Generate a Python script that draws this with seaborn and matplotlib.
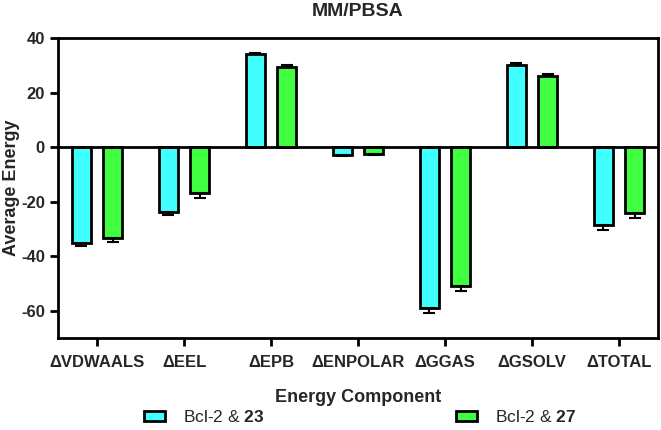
import numpy as np
import pandas as pd
import matplotlib
matplotlib.use("Agg")
import matplotlib.pyplot as plt
import seaborn as sns
from matplotlib.patches import Patch

# energy components and the two complexes
components = ["ΔVDWAALS", "ΔEEL", "ΔEPB", "ΔENPOLAR", "ΔGGAS", "ΔGSOLV", "ΔTOTAL"]
series_names = ["Bcl-2 & 23", "Bcl-2 & 27"]
values_23 = [-35.2, -23.8, 34.1, -2.9, -59.1, 30.2, -28.6]
errors_23 = [0.9, 1.0, 0.5, 0.4, 1.7, 0.6, 1.8]
values_27 = [-33.3, -16.9, 29.4, -2.6, -51.0, 26.1, -24.0]
errors_27 = [1.5, 1.6, 0.8, 0.4, 1.6, 0.8, 2.0]
colors = ["#40FFFF", "#40FF40"]

sns.set_style("white")
plt.rcParams["font.family"] = ["Liberation Sans", "DejaVu Sans"]
plt.rcParams["mathtext.fontset"] = "custom"
plt.rcParams["mathtext.bf"] = "Liberation Sans:bold"
plt.rcParams["mathtext.rm"] = "Liberation Sans"
plt.rcParams["axes.unicode_minus"] = False

df = pd.DataFrame({
    "component": components * 2,
    "series": [series_names[0]] * 7 + [series_names[1]] * 7,
    "value": values_23 + values_27,
    "err": errors_23 + errors_27,
})

fig = plt.figure(figsize=(6.61, 4.30), dpi=100)
ax = fig.add_axes([0.0877, 0.214, 0.9078, 0.6976])

sns.barplot(data=df, x="component", y="value", hue="series", order=components,
            hue_order=series_names, palette=colors, saturation=1, width=0.72, gap=0.39,
            edgecolor="black", linewidth=2, errorbar=None, legend=False, ax=ax)

# one-sided error bars, like GraphPad
patches = [p for p in ax.patches if p.get_width() > 0]
for p, v, e in zip(patches, values_23 + values_27, errors_23 + errors_27):
    xc = p.get_x() + p.get_width() / 2
    yerr = [[0], [e]] if v > 0 else [[e], [0]]
    ax.errorbar(xc, v, yerr=yerr, fmt="none", ecolor="black", elinewidth=1.5,
                capsize=4, capthick=1.5, zorder=1)

ax.axhline(0, color="black", linewidth=2, zorder=3)
ax.set_ylim(-70, 40)
ax.set_xlim(-0.45, 6.45)
ax.set_yticks([-60, -40, -20, 0, 20, 40])

for s in ax.spines.values():
    s.set_visible(True)
    s.set_linewidth(2)
    s.set_color("black")
ax.tick_params(axis="both", which="both", direction="out", length=6, width=2,
               color="black", labelsize=12, bottom=True, left=True)
ax.tick_params(axis="x", pad=6)
for lbl in ax.get_xticklabels() + ax.get_yticklabels():
    lbl.set_fontweight("bold")

ax.set_title("MM/PBSA", fontsize=14, fontweight="bold", pad=16)
ax.set_xlabel("Energy Component", fontsize=13, fontweight="bold", labelpad=14)
ax.set_ylabel("Average Energy", fontsize=13, fontweight="bold", labelpad=1)

h1 = Patch(facecolor=colors[0], edgecolor="black", linewidth=2)
h2 = Patch(facecolor=colors[1], edgecolor="black", linewidth=2)
fig.legend([h1], ["Bcl-2 & $\\mathbf{23}$"], loc="center left",
           bbox_to_anchor=(0.2, 0.03), frameon=False, fontsize=12.5,
           handlelength=1.2, handleheight=0.5, handletextpad=1.0, borderpad=0.2)
fig.legend([h2], ["Bcl-2 & $\\mathbf{27}$"], loc="center left",
           bbox_to_anchor=(0.672, 0.03), frameon=False, fontsize=12.5,
           handlelength=1.2, handleheight=0.5, handletextpad=1.0, borderpad=0.2)

fig.savefig("out.png", dpi=100)
